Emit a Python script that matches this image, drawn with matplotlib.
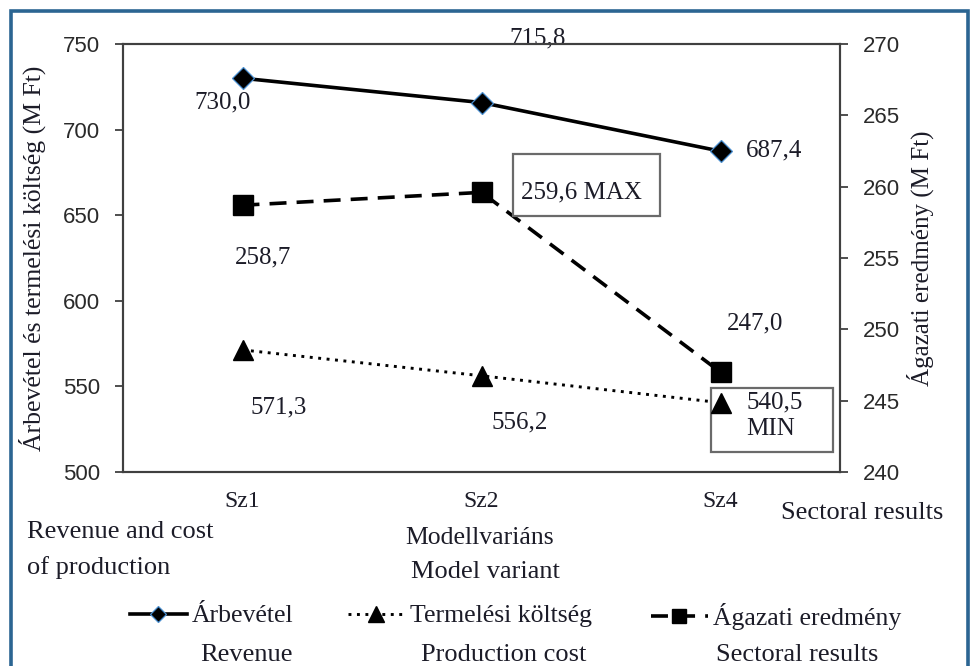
import matplotlib.pyplot as plt
from matplotlib.patches import Rectangle
from matplotlib.transforms import ScaledTranslation

variansok = ["Sz1", "Sz2", "Sz4"]
arbevetel = [730.0, 715.8, 687.4]
termelesi_koltseg = [571.3, 556.2, 540.5]
agazati_eredmeny = [258.7, 259.6, 247.0]

cimke_arbevetel = ["730,0", "715,8", "687,4"]
cimke_koltseg = ["571,3", "556,2", "540,5\nMIN"]
cimke_eredmeny = ["258,7", "259,6 MAX", "247,0"]

serif = ["Liberation Serif", "DejaVu Serif"]
sans = ["Liberation Sans Narrow", "Liberation Sans", "DejaVu Sans"]
plt.rcParams['font.family'] = serif
szurke = "#404040"
szoveg = "#1c1c28"

fig = plt.figure(figsize=(9.76, 6.66), dpi=100)
W, H = 976, 666

ax = fig.add_axes([123 / W, (H - 472) / H, 717 / W, 428 / H])
ax2 = ax.twinx()

x = list(range(len(variansok)))
ax.plot(x, arbevetel, color="black", lw=2.6, marker="D", ms=11,
        mfc="black", mec="#4a8fd0", mew=0.9, label="Árbevétel", zorder=2)
ax.plot(x, termelesi_koltseg, color="black", lw=2.1, ls=(0, (1, 1.9)),
        marker="^", ms=15, mfc="black", mec="black", label="Termelési költség", zorder=2)
ax2.plot(x, agazati_eredmeny, color="black", lw=2.6, ls=(0, (4.7, 2.8)),
         marker="s", ms=14, mfc="black", mec="black", label="Ágazati eredmény", zorder=2)

ax.set_xlim(-0.5, 2.5)
ax.set_ylim(500, 750)
ax.set_yticks([500, 550, 600, 650, 700, 750])
ax2.set_ylim(240, 270)
ax2.set_yticks([240, 245, 250, 255, 260, 265, 270])
ax.set_xticks(x)
ax.set_xticklabels(variansok, fontsize=17, family=serif, color=szoveg)
ax.tick_params(axis="x", length=0, pad=14)
for a in (ax, ax2):
    a.tick_params(axis="y", length=5.5, width=1.3, color=szurke,
                  labelsize=16, labelcolor="#2a2a2a", pad=11)
    for lab in a.get_yticklabels():
        lab.set_family(sans)
    for s in a.spines.values():
        s.set_color(szurke)
        s.set_linewidth(1.5)

fig.text(32 / W, 1 - 258 / H, "Árbevétel és termelési költség (M Ft)", fontsize=18.5,
         rotation=90, ha="center", va="center", color=szoveg)
fig.text(920 / W, 1 - 258 / H, "Ágazati eredmény (M Ft)", fontsize=18,
         rotation=90, ha="center", va="center", color=szoveg)


def cimke(a, i, y, s, dx, dy, **kw):
    a.annotate(s, (x[i], y), xytext=(dx, dy), textcoords="offset pixels",
               fontsize=18, color=szoveg, ha=kw.pop("ha", "center"),
               va="center", zorder=5, **kw)


def keret(a, i, y, x0, y0, w, h):
    tr = ScaledTranslation(x[i], y, a.transData)
    a.add_patch(Rectangle((x0, y0), w, h, transform=tr, fc="white",
                          ec="#6a6a6a", lw=1.6, zorder=3, clip_on=False))


# adatcimkek
cimke(ax, 0, arbevetel[0], cimke_arbevetel[0], -20, -24)
cimke(ax, 1, arbevetel[1], cimke_arbevetel[1], 56, 64)
cimke(ax, 2, arbevetel[2], cimke_arbevetel[2], 54, 1)
cimke(ax, 0, termelesi_koltseg[0], cimke_koltseg[0], 36, -58)
cimke(ax, 1, termelesi_koltseg[1], cimke_koltseg[1], 38, -47)
keret(ax, 2, termelesi_koltseg[2], -10, -49, 122, 64)
ax.plot(x[2], termelesi_koltseg[2], ls="none", marker="^", ms=15, color="black", zorder=4)
cimke(ax, 2, termelesi_koltseg[2], cimke_koltseg[2], 26, -13, ha="left", linespacing=1.25)
cimke(ax2, 0, agazati_eredmeny[0], cimke_eredmeny[0], 21, -52)
keret(ax2, 1, agazati_eredmeny[1], 31, -24, 147, 62)
cimke(ax2, 1, agazati_eredmeny[1], cimke_eredmeny[1], 100, 0)
cimke(ax2, 2, agazati_eredmeny[2], cimke_eredmeny[2], 35, 49)

# szovegek a diagram alatt
fig.text(27 / W, 1 - 550 / H, "Revenue and cost\nof production", fontsize=19,
         va="center", linespacing=1.75, color=szoveg)
fig.text(480 / W, 1 - 538 / H, "Modellvariáns", fontsize=18.5, ha="center", va="center",
         color=szoveg)
fig.text(485 / W, 1 - 572 / H, "Model variant", fontsize=19, ha="center", va="center",
         color=szoveg)
fig.text(862 / W, 1 - 513 / H, "Sectoral results", fontsize=19, ha="center", va="center",
         color=szoveg)

h1, l1 = ax.get_legend_handles_labels()
h2, l2 = ax2.get_legend_handles_labels()
jelmagyarazat_x = [130, 348, 651]
for h, l, lx in zip(h1 + h2, l1 + l2, jelmagyarazat_x):
    leg = fig.legend([h], [l], loc="center left", bbox_to_anchor=(lx / W, 1 - 616 / H),
                     frameon=False, fontsize=18.5, handlelength=2.2, handletextpad=0.2,
                     borderpad=0, borderaxespad=0, markerscale=0.75)
    for t in leg.get_texts():
        t.set_color(szoveg)
fig.text(246 / W, 1 - 655 / H, "Revenue", fontsize=19, ha="center", va="center", color=szoveg)
fig.text(504 / W, 1 - 655 / H, "Production cost", fontsize=19, ha="center", va="center",
         color=szoveg)
fig.text(797 / W, 1 - 655 / H, "Sectoral results", fontsize=19, ha="center", va="center",
         color=szoveg)

fig.patches.append(Rectangle((11 / W, -0.05), 957 / W, 1.05 - 11 / H,
                             transform=fig.transFigure, fill=False,
                             ec="#2b6592", lw=2.6))

fig.savefig("out.png", dpi=100)
